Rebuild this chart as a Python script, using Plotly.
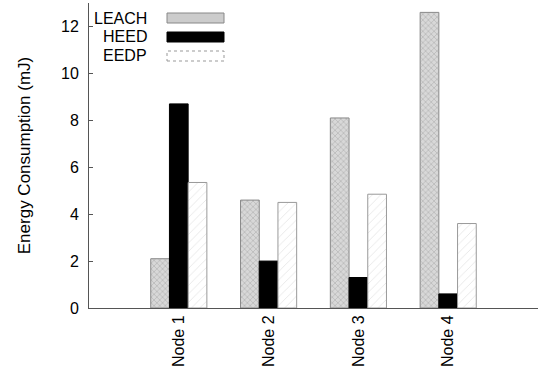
import plotly.graph_objects as go

categories = ["Node 1", "Node 2", "Node 3", "Node 4"]
leach = [2.1, 4.6, 8.1, 12.6]
heed = [8.7, 2.0, 1.3, 0.6]
eedp = [5.35, 4.5, 4.85, 3.6]
series_names = ["LEACH", "HEED", "EEDP"]
y_ticks = [0, 2, 4, 6, 8, 10, 12]

W, H = 542, 386
L, R, T, B = 89, 4, 3, 78
pw, ph = W - L - R, H - T - B

def px(x):
    return (x - L) / pw

def py(y):
    return 1 - (y - T) / ph

font = "Liberation Sans, Arial, Helvetica, sans-serif"
fig = go.Figure()
fig.add_bar(x=categories, y=leach, name=series_names[0],
            marker=dict(color="#d4d4d4", line=dict(color="#888888", width=1),
                        pattern=dict(shape="x", fgcolor="#8c8c8c", bgcolor="#d8d8d8", size=4, solidity=0.3)))
fig.add_bar(x=categories, y=heed, name=series_names[1],
            marker=dict(color="black", line=dict(color="black", width=1)))
fig.add_bar(x=categories, y=eedp, name=series_names[2],
            marker=dict(color="white", line=dict(color="#999999", width=1),
                        pattern=dict(shape="/", fgcolor="#cfcfcf", bgcolor="white", size=6, solidity=0.15)))

# custom legend: right-aligned text with swatches to the right
rows = [(18, series_names[0]), (37, series_names[1]), (55, series_names[2])]
for yc, name in rows:
    fig.add_annotation(x=px(149), y=py(yc), xref="paper", yref="paper", text=name,
                       showarrow=False, xanchor="right", yanchor="middle",
                       font=dict(family=font, size=16, color="black"))
fig.add_shape(type="rect", xref="paper", yref="paper", x0=px(167), x1=px(224), y0=py(23), y1=py(13),
              fillcolor="#cccccc", line=dict(color="#888888", width=1))
fig.add_shape(type="rect", xref="paper", yref="paper", x0=px(167), x1=px(224), y0=py(42), y1=py(32),
              fillcolor="black", line=dict(color="black", width=1))
fig.add_shape(type="rect", xref="paper", yref="paper", x0=px(167), x1=px(224), y0=py(61), y1=py(51),
              fillcolor="white", line=dict(color="#999999", width=1, dash="dot"))

fig.update_layout(
    width=W, height=H, margin=dict(l=L, r=R, t=T, b=B, autoexpand=False),
    paper_bgcolor="white", plot_bgcolor="white",
    barmode="group", bargap=0.375, bargroupgap=0,
    showlegend=False,
    font=dict(family=font, size=16, color="black"),
)
fig.update_xaxes(type="category", range=[-1, 4], showline=True, linecolor="#555555", linewidth=1,
                 ticks="", tickangle=-90, showgrid=False, zeroline=False, automargin=False,
                 tickfont=dict(family=font, size=16, color="black"))
fig.update_yaxes(range=[0, 13], tickvals=y_ticks, showline=True, linecolor="#555555", linewidth=1,
                 ticks="inside", ticklen=4, tickcolor="#555555", showgrid=False, zeroline=False,
                 automargin=False, ticklabelstandoff=6,
                 title=dict(text="Energy Consumption (mJ)", font=dict(family=font, size=17), standoff=26),
                 tickfont=dict(family=font, size=16, color="black"))

fig.write_html("out.html", config={"displayModeBar": False},
               post_script="document.body.style.margin='0';document.body.style.overflow='hidden';")
